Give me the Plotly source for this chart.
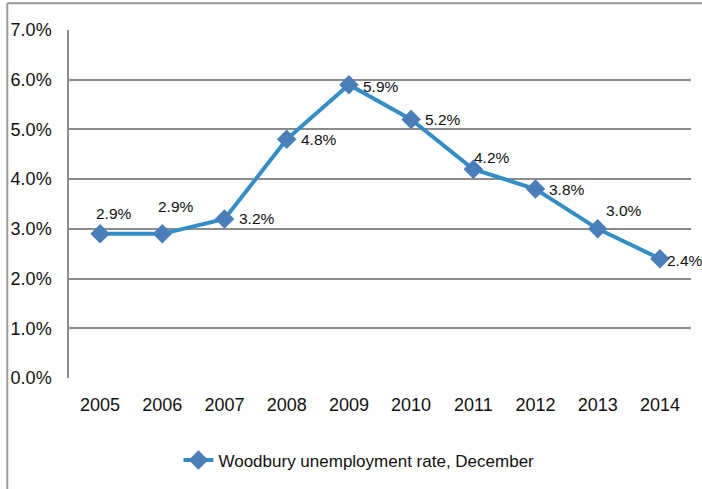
import plotly.graph_objects as go

years = ["2005", "2006", "2007", "2008", "2009", "2010", "2011", "2012", "2013", "2014"]
rates = [2.9, 2.9, 3.2, 4.8, 5.9, 5.2, 4.2, 3.8, 3.0, 2.4]
series_name = "Woodbury unemployment rate, December"
y_ticks = [0, 1, 2, 3, 4, 5, 6, 7]

# pixel offsets of each value label from its point
label_dx = [14, 14, 32, 32, 32, 32, 19, 31, 26, 25]
label_dy = [20, 27, 0, 0, -2, 0, 12, 0, 18, -2]

FONT = "Liberation Sans Narrow, Arial Narrow, Liberation Sans, Arial, sans-serif"

fig = go.Figure()
fig.add_trace(go.Scatter(
    x=years, y=rates, name=series_name, mode="lines+markers",
    line=dict(color="rgb(50,142,200)", width=4),
    marker=dict(symbol="diamond", size=15, color="rgb(74,126,187)",
                line=dict(width=0)),
))

# value labels, placed by category index
for i, (v, dx, dy) in enumerate(zip(rates, label_dx, label_dy)):
    fig.add_annotation(x=i, y=v, xref="x", yref="y", text=f"{v:.1f}%",
                       showarrow=False, xshift=dx, yshift=dy,
                       font=dict(family=FONT, size=15.5, color="#111111"))

# outer chart frame (top and left edges)
fig.add_shape(type="line", xref="paper", yref="paper",
              x0=(4 - 66) / 625, x1=1.1, y0=1 + 27 / 350, y1=1 + 27 / 350,
              line=dict(color="#9a9a9a", width=2))
fig.add_shape(type="line", xref="paper", yref="paper",
              x0=(4 - 66) / 625, x1=(4 - 66) / 625, y0=1 + 27 / 350, y1=-0.4,
              line=dict(color="#9a9a9a", width=2))

fig.update_layout(
    width=702, height=489,
    margin=dict(l=66, r=11, t=30, b=109),
    paper_bgcolor="white", plot_bgcolor="white",
    font=dict(family=FONT, size=18, color="#111111"),
    showlegend=True,
    legend=dict(orientation="h", x=(176 - 66) / 625, xanchor="left",
                y=-0.185, yanchor="top",
                font=dict(family=FONT, size=17, color="#111111")),
    xaxis=dict(type="category", showgrid=False, ticks="", showline=False,
               tickfont=dict(size=18), range=[-0.5, 9.5],
               ticklabelstandoff=14),
    yaxis=dict(range=[0, 7], tickvals=y_ticks,
               ticktext=[f"{t:.1f}%" for t in y_ticks],
               showgrid=True, gridcolor="#8c8c8c", gridwidth=1.5,
               showline=True, linecolor="#8c8c8c", linewidth=1.5,
               zeroline=False, ticks="", ticklabelstandoff=12,
               tickfont=dict(size=18)),
)

fig.write_html("out.html")
